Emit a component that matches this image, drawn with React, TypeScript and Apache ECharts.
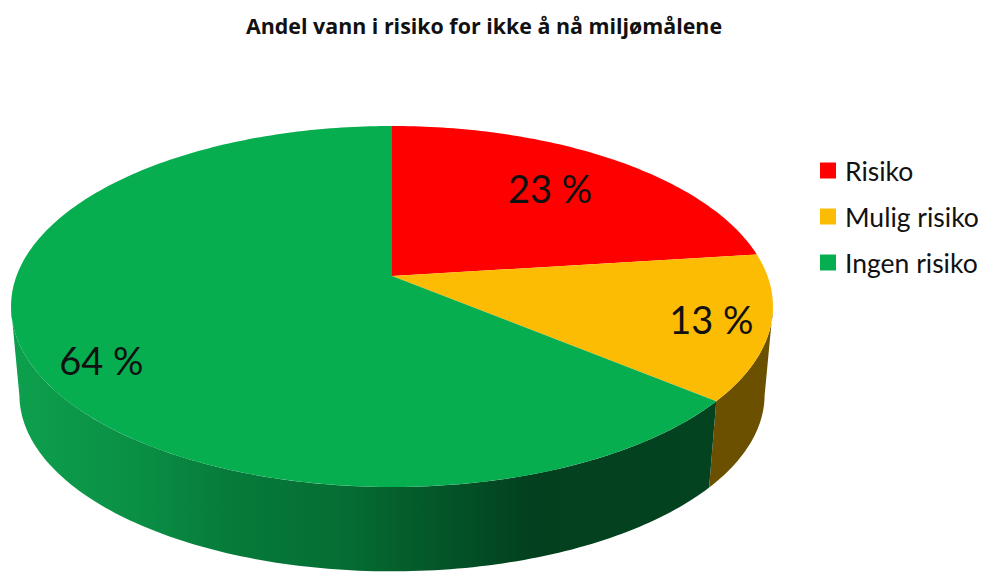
import React, { useEffect, useRef } from "react";
import * as echarts from "echarts";

const titleText = "Andel vann i risiko for ikke å nå miljømålene";
const categories = ["Risiko", "Mulig risiko", "Ingen risiko"];
const shares = [23, 13, 64];
const faceColors = ["#ff0000", "#fdbc04", "#06ae50"];

// Tilted disc: a plane circle seen through a perspective projection.
const CX = 392;
const CY = 276;
const AX = 375.5;
const AY = 175.35;
const PERSPECTIVE = 0.169;
// Lower rim of the disc: slightly smaller and shifted down.
const RIM_SCALE = 0.978;
const RIM_Y = 365;
// Arc of the rim (degrees clockwise from 12 o'clock) facing the viewer.
const FRONT_FROM = 100;
const FRONT_TO = 260;

const labelRadius = [0.693, 0.85, 0.806];
const labelNudge = [-4, 0, 20];

const project = (deg: number, r = 1, lower = false) => {
  const t = (deg * Math.PI) / 180;
  const u = r * Math.sin(t);
  const v = r * Math.cos(t);
  const w = 1 + PERSPECTIVE * v;
  return lower
    ? [CX + (RIM_SCALE * AX * u) / w, RIM_Y - (RIM_SCALE * AY * v) / w]
    : [CX + (AX * u) / w, CY - (AY * v) / w];
};

const arc = (from: number, to: number, lower = false) => {
  const n = Math.max(2, Math.ceil(Math.abs(to - from)));
  const pts: number[][] = [];
  for (let i = 0; i <= n; i++) pts.push(project(from + ((to - from) * i) / n, 1, lower));
  return pts;
};

const wallFills = () => [
  "#000000",
  "#6b5000",
  new echarts.graphic.LinearGradient(
    20,
    0,
    710,
    0,
    [
      { offset: 0, color: "#0d9f4d" },
      { offset: 0.17, color: "#0a8f45" },
      { offset: 0.31, color: "#067a39" },
      { offset: 0.46, color: "#056f34" },
      { offset: 0.55, color: "#045f2c" },
      { offset: 0.65, color: "#034f26" },
      { offset: 0.74, color: "#03401f" },
      { offset: 1, color: "#034320" },
    ],
    true
  ),
];

const total = shares.reduce((a, b) => a + b, 0);

function sliceRenderer(index: number) {
  return (_params: any, api: any) => {
    const value = api.value(0);
    const before = shares.slice(0, index).reduce((a, b) => a + b, 0);
    const start = (before / total) * 360;
    const end = start + (value / total) * 360;
    const children: any[] = [];

    const wFrom = Math.max(start, FRONT_FROM);
    const wTo = Math.min(end, FRONT_TO);
    if (wTo > wFrom) {
      children.push({
        type: "polygon",
        shape: { points: [...arc(wFrom, wTo), ...arc(wTo, wFrom, true)] },
        style: { fill: wallFills()[index] },
        silent: true,
      });
    }

    children.push({
      type: "polygon",
      shape: { points: [[CX, CY], ...arc(start, end)] },
      style: { fill: faceColors[index] },
      silent: true,
    });

    const [lx, ly] = project((start + end) / 2, labelRadius[index]);
    children.push({
      type: "text",
      style: {
        text: `${value} %`,
        x: lx,
        y: ly + labelNudge[index],
        fill: "#111111",
        font: '38px Lato, "Noto Sans", sans-serif',
        align: "center",
        verticalAlign: "middle",
      },
      silent: true,
    });
    return { type: "group", children };
  };
}

export default function App() {
  const ref = useRef<HTMLDivElement>(null);
  useEffect(() => {
    const chart = echarts.init(ref.current!, undefined, { renderer: "svg" });
    chart.setOption({
      animation: false,
      backgroundColor: "#ffffff",
      title: {
        text: titleText,
        left: 479,
        top: 10,
        textAlign: "center",
        textStyle: {
          fontFamily: '"Open Sans", sans-serif',
          fontWeight: 700,
          fontSize: 21.4,
          color: "#111111",
        },
      },
      legend: {
        orient: "vertical",
        left: 815,
        top: 151,
        icon: "rect",
        itemWidth: 16,
        itemHeight: 16,
        itemGap: 17,
        itemStyle: { borderWidth: 0 },
        selectedMode: false,
        textStyle: {
          fontFamily: 'Lato, "Noto Sans", sans-serif',
          fontSize: 26.5,
          lineHeight: 26,
          color: "#111111",
          padding: [0, 0, 3, 4],
        },
        data: categories,
      },
      series: categories.map((name, i) => ({
        type: "custom",
        name,
        coordinateSystem: "none",
        itemStyle: { color: faceColors[i] },
        data: [[shares[i]]],
        renderItem: sliceRenderer(i),
      })),
    });
    return () => chart.dispose();
  }, []);
  return (
    <div
      ref={ref}
      style={{ position: "absolute", left: 0, top: 0, width: 984, height: 572 }}
    />
  );
}
